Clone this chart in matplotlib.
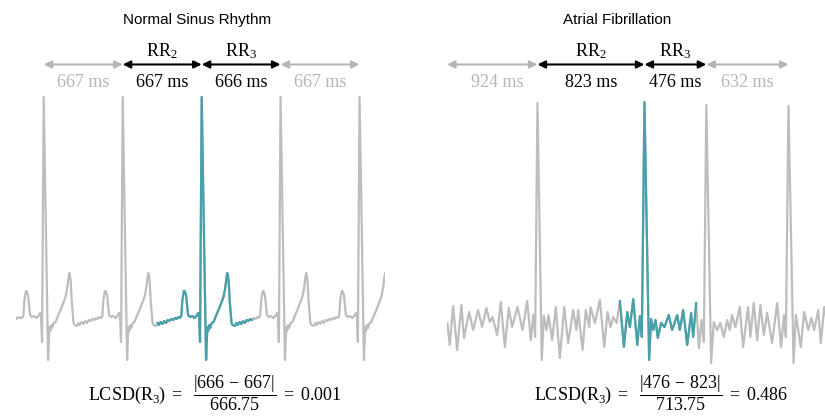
import numpy as np
import matplotlib.pyplot as plt

plt.rcParams['mathtext.fontset'] = 'custom'
plt.rcParams['mathtext.rm'] = 'Liberation Serif'
plt.rcParams['mathtext.it'] = 'Liberation Serif:italic'

GRAY = '#bdbdbd'
LABEL_GRAY = '#b5b5b5'
TEAL = '#46a1aa'

# RR intervals in ms
nsr_rr = [667, 667, 666, 667]
af_rr = [924, 823, 476, 632]

# one sinus beat: ms from the R peak, amplitude in mV
beat_t = [-185, -172, -163, -150, -144, -132, -115, -100, -80, -60,
          -45, -30, -22, -14, 0, 37, 48, 55, 63, 72,
          85, 100, 120, 142, 165, 184, 200, 210, 216, 222,
          228, 236, 252, 262, 280, 295, 305, 320, 335, 350,
          365, 380, 395, 410, 425, 440, 455, 470, 481]
beat_v = [0.02, 0.04, 0.20, 0.29, 0.29, 0.25, 0.05, 0.03, 0.04, 0.02,
          0.04, 0.07, 0.03, -0.22, 2.23, -0.40, -0.07, -0.11, -0.05, -0.08,
          -0.03, -0.02, 0.04, 0.10, 0.17, 0.23, 0.33, 0.43, 0.47, 0.44,
          0.39, 0.20, -0.03, -0.05, -0.06, -0.03, -0.05, -0.02, -0.04, -0.01,
          -0.03, 0.00, -0.01, 0.01, 0.00, 0.02, 0.01, 0.03, 0.02]
lead_t = [-234, -215, -200]
lead_v = [0.01, 0.03, 0.02]

# atrial fibrillation trace, t = 0 at the first visible R peak
af_t = [-693, -675, -649, -618, -585, -565, -526, -495, -457, -426,
        -393, -367, -346, -310, -282, -251, -221, -195, -154, -115,
        -79, -51, -33, -18, 0, 33, 49, 70, 85, 113,
        141, 172, 206, 236, 275, 300, 313, 347, 372, 398,
        408, 442, 480, 514, 539, 562, 583, 609, 634, 665,
        691, 711, 737, 768, 788, 803, 823, 859, 874, 890,
        908, 926, 951, 977, 1010, 1036, 1075, 1095, 1121, 1152,
        1182, 1198, 1221, 1242, 1262, 1280, 1299, 1336, 1356, 1382,
        1407, 1433, 1459, 1479, 1497, 1523, 1556, 1582, 1620, 1638,
        1664, 1690, 1715, 1741, 1767, 1805, 1844, 1874, 1897, 1911,
        1931, 1970, 1988, 2026, 2052, 2083, 2108, 2129, 2160, 2180,
        2206, 2218]
af_v = [-0.03, -0.25, 0.14, -0.30, 0.15, -0.18, 0.08, -0.10, 0.10, -0.07,
        0.12, -0.02, 0.03, -0.15, 0.18, -0.27, 0.12, -0.07, 0.13, -0.10,
        0.19, -0.20, 0.05, -0.17, 2.17, -0.40, 0.04, -0.10, 0.05, -0.20,
        0.13, -0.38, 0.13, -0.23, 0.10, -0.10, 0.10, -0.30, 0.10, -0.07,
        0.13, -0.03, 0.20, -0.27, 0.08, -0.07, 0.03, -0.03, 0.19, -0.27,
        0.08, -0.07, 0.21, -0.25, 0.04, -0.17, 2.18, -0.40, 0.01, -0.10,
        0.00, -0.18, -0.03, -0.07, 0.05, -0.10, 0.05, -0.10, 0.10, -0.25,
        0.07, -0.17, 0.17, -0.28, 0.00, -0.22, 2.15, -0.43, -0.02, -0.10,
        -0.03, -0.17, 0.00, -0.10, 0.05, -0.07, 0.13, -0.27, 0.13, -0.17,
        0.17, -0.20, 0.15, -0.15, 0.07, -0.23, 0.17, -0.27, 0.05, -0.17,
        2.14, -0.43, 0.05, -0.27, 0.08, -0.10, 0.02, -0.10, 0.10, -0.23,
        0.13, 0.05]

# build the sinus trace from the beat at each R peak
nsr_r = np.concatenate([[0], np.cumsum(nsr_rr)])
bt = np.array(beat_t)
bv = np.array(beat_v)
ts, vs = [np.array(lead_t)], [np.array(lead_v)]
for i, r in enumerate(nsr_r):
    keep = bt <= 216 if i == len(nsr_r) - 1 else bt == bt
    ts.append(bt[keep] + r)
    vs.append(bv[keep])
nsr_t = np.concatenate(ts)
nsr_v = np.concatenate(vs)

af_t = np.array(af_t)
af_v = np.array(af_v)
af_r = np.array([0, 823, 1299, 1931])

W, H = 825, 416
fig = plt.figure(figsize=(W / 100, H / 100), dpi=100)
ax1 = fig.add_axes([16 / W, 0, 369 / W, 1])
ax2 = fig.add_axes([447 / W, 0, 378 / W, 1])
ax1.set_xlim(-234, 2882)
ax2.set_xlim(-696, 2212)
for ax in (ax1, ax2):
    ax.set_ylim(-0.96, 3.20)
    ax.axis('off')

# traces, highlighted beat in teal
ax1.plot(nsr_t, nsr_v, color=GRAY, lw=1.6, solid_joinstyle='round')
m = (nsr_t >= nsr_r[2] - 380) & (nsr_t <= nsr_r[2] + 430)
ax1.plot(nsr_t[m], nsr_v[m], color=TEAL, lw=1.6, solid_joinstyle='round')

ax2.plot(af_t, af_v, color=GRAY, lw=1.6, solid_joinstyle='round')
m = (af_t >= af_r[1] - 205) & (af_t <= af_r[1] + 400)
ax2.plot(af_t[m], af_v[m], color=TEAL, lw=1.6, solid_joinstyle='round')


def interval_arrows(ax, edges, rr, colors, label_x):
    tr = ax.get_xaxis_transform()
    for i in range(len(rr)):
        ax.annotate('', xy=(edges[i + 1], 0.845), xytext=(edges[i], 0.845),
                    xycoords=tr, textcoords=tr, annotation_clip=False,
                    arrowprops=dict(arrowstyle='<|-|>,head_length=0.45,head_width=0.22',
                                    color=colors[i], lw=1.5, shrinkA=0, shrinkB=0,
                                    mutation_scale=10))
        ax.text(label_x[i], 0.802, f'{rr[i]} ms', transform=tr, ha='center', va='center',
                fontsize=13, family='Liberation Serif',
                color='black' if colors[i] == 'black' else LABEL_GRAY)
    ax.text((edges[1] + edges[2]) / 2, 0.876, r'$\mathrm{RR}_2$', transform=tr,
            ha='center', va='center', fontsize=13)
    ax.text((edges[2] + edges[3]) / 2, 0.876, r'$\mathrm{RR}_3$', transform=tr,
            ha='center', va='center', fontsize=13)


cols = [LABEL_GRAY, 'black', 'black', LABEL_GRAY]
e1 = list(nsr_r)
interval_arrows(ax1, e1, nsr_rr, cols, [(e1[i] + e1[i + 1]) / 2 for i in range(4)])
e2 = [-696] + list(af_r)
lx2 = [-306] + [(e2[i] + e2[i + 1]) / 2 for i in range(1, 4)]
interval_arrows(ax2, e2, af_rr, cols, lx2)

fig.text(197 / W, 1 - 20 / H, 'Normal Sinus Rhythm', ha='center', va='center',
         fontsize=11, family='Liberation Sans')
fig.text(617 / W, 1 - 20 / H, 'Atrial Fibrillation', ha='center', va='center',
         fontsize=11, family='Liberation Sans')


def lcsd_text(rr):
    val = abs(rr[2] - rr[1]) / np.mean(rr)
    return (r'$\mathrm{LCSD(R_3)}\ =\ \ \dfrac{|%d\,-\,%d|}{%s}\ =\ %.3f$'
            % (rr[2], rr[1], f'{np.mean(rr):g}', val))


fig.text(215 / W, 1 - 393 / H, lcsd_text(nsr_rr), ha='center', va='center', fontsize=13)
fig.text(661 / W, 1 - 393 / H, lcsd_text(af_rr), ha='center', va='center', fontsize=13)

fig.savefig('out.png', dpi=100)
